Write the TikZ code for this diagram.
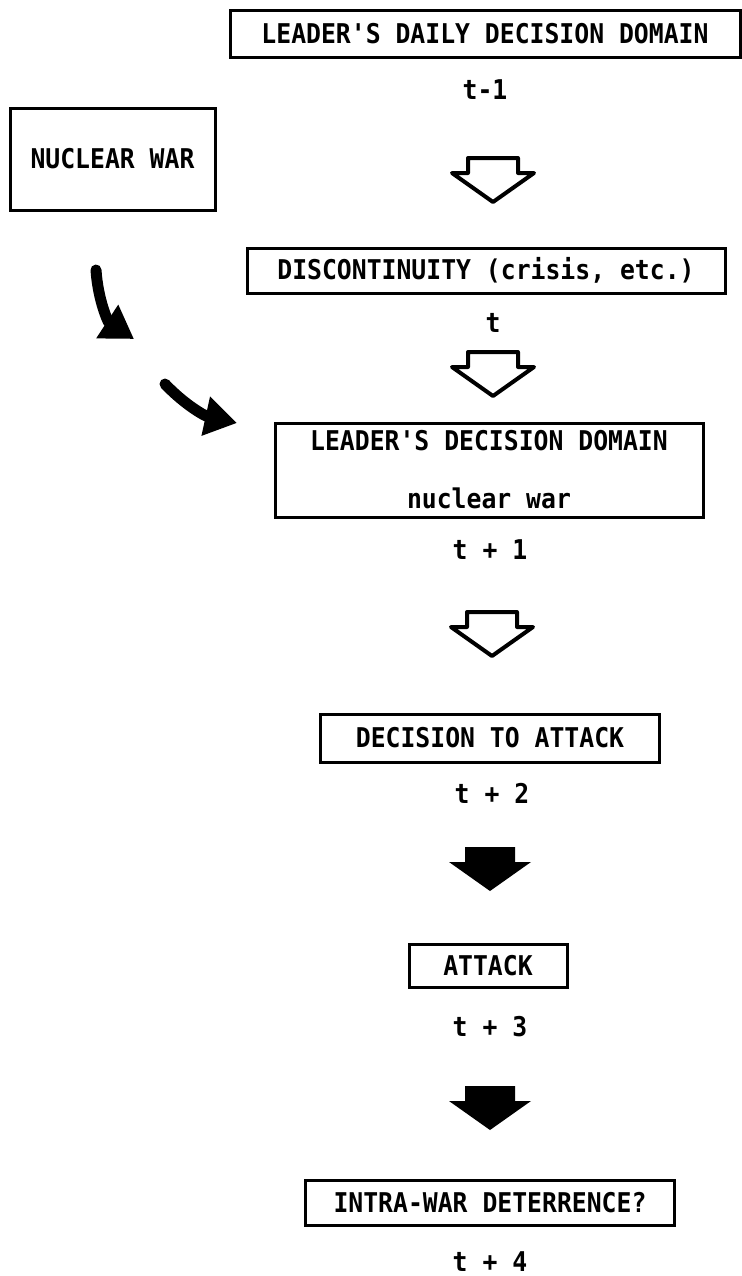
\documentclass[tikz,border=0pt]{standalone}
\usepackage{fontspec}
\newfontfamily\typefont{DejaVu Sans Mono}[FakeStretch=0.91]
\usetikzlibrary{positioning,arrows.meta,calc}

\begin{document}
\begin{tikzpicture}[x=0.5pt,y=-0.5pt,
  font=\typefont\bfseries\fontsize{13.6}{15}\selectfont,
  box/.style={draw,line width=1.5pt,inner sep=0pt,align=center},
  curvy/.style={line width=5.5pt,line cap=round,-{Triangle[length=16pt,width=19pt]}},
  hollowarr/.pic={\draw[line width=2pt,line join=round] (-25,15)--(-25,0)--(25,0)--(25,15)--(41,15)--(0,44)--(-41,15)--cycle;},
  solidarr/.pic={\fill[line join=round] (-25,15)--(-25,0)--(25,0)--(25,15)--(41,15)--(0,44)--(-41,15)--cycle;}]
  \useasboundingbox (0,0) rectangle (742,1276);
  \node[box,minimum width=255pt,minimum height=23.5pt] (daily) at (485,33.5) {LEADER'S DAILY DECISION DOMAIN};
  \node (tm1) at (485,90) {t-1};
  \node[box,minimum width=102.5pt,minimum height=51pt] (nwar) at (112.5,159) {NUCLEAR WAR};
  \node[box,minimum width=239pt,minimum height=22.5pt] (disc) at (486,270.5) {DISCONTINUITY (crisis, etc.)};
  \node (t0) at (493,323) {t};
  \node[box,minimum width=214pt,minimum height=47pt] (domain) at (489,470) {LEADER'S DECISION DOMAIN\\[14pt]nuclear war};
  \node (tp1) at (490,550) {t + 1};
  \node[box,minimum width=169.5pt,minimum height=24pt] (decide) at (490,738) {DECISION TO ATTACK};
  \node (tp2) at (492,793) {t + 2};
  \node[box,minimum width=79pt,minimum height=21.5pt] (attack) at (488,966) {ATTACK};
  \node (tp3) at (490,1027) {t + 3};
  \node[box,minimum width=184.5pt,minimum height=22.5pt] (intra) at (490,1202.5) {INTRA-WAR DETERRENCE?};
  \node (tp4) at (490,1262) {t + 4};
  \pic at (493,158) {hollowarr};
  \pic at (493,352) {hollowarr};
  \pic at (492,612) {hollowarr};
  \pic at (490,847) {solidarr};
  \pic at (490,1086) {solidarr};
  \coordinate (c1s) at (96,270);
  \coordinate (c1e) at (134,339);
  \coordinate (c2s) at (165,384);
  \coordinate (c2e) at (237,423);
  \draw[curvy] (c1s) .. controls (98,300) and (108,322) .. (c1e);
  \draw[curvy] (c2s) .. controls (185,405) and (205,416) .. (c2e);
\end{tikzpicture}
\end{document}
